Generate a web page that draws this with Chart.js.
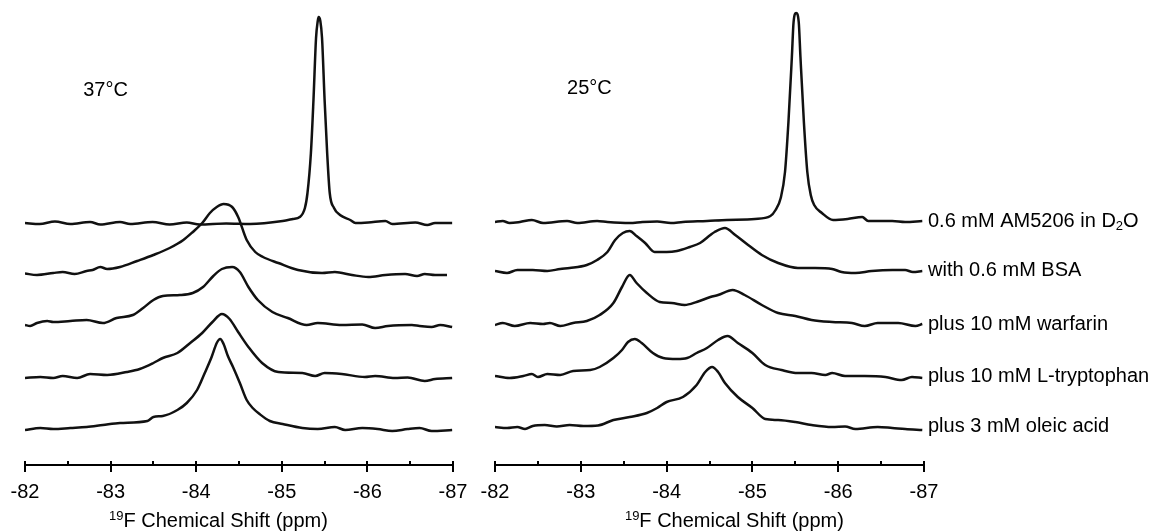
<!DOCTYPE html>
<html>
<head>
<meta charset="utf-8">
<script src="https://cdn.jsdelivr.net/npm/chart.js@4.4.1/dist/chart.umd.min.js"></script>
<style>
  html, body { margin: 0; padding: 0; background: #fff; }
  #wrap { position: relative; width: 1152px; height: 532px; }
  canvas { position: absolute; left: 0; top: 0; }
</style>
</head>
<body>
<div id="wrap">
  <canvas id="chart37" width="1152" height="532"></canvas>
  <canvas id="chart25" width="1152" height="532"></canvas>
</div>
<script>
// --- data: [ppm, intensity above own baseline] ---
const sampleLabels = ['0.6 mM AM5206 in D2O', 'with 0.6 mM BSA', 'plus 10 mM warfarin', 'plus 10 mM L-tryptophan', 'plus 3 mM oleic acid'];
const tickValues = [-82, -83, -84, -85, -86, -87];
const minorTicks = [-82.5, -83.5, -84.5, -85.5, -86.5];
// vertical stacking of the five traces (same units as intensity)
const offsets37 = [242, 191, 140, 87, 35];
const offsets25 = [243, 194, 140, 88, 38];

// 37°C
const d2o37 = [[-82.00,0],[-82.17,-1],[-82.35,1.5],[-82.53,-1],[-82.76,1],[-82.88,-1.5],[-83.11,1],[-83.23,-1],[-83.49,1],[-83.69,-1.5],[-83.89,0.5],[-84.04,-1.5],[-84.35,-0.5],[-84.63,-1],[-85.01,2],[-85.13,4],[-85.21,6],[-85.27,15],[-85.30,30],[-85.34,70],[-85.37,123],[-85.40,185],[-85.42,202],[-85.43,206],[-85.45,202],[-85.47,185],[-85.50,123],[-85.53,70],[-85.56,30],[-85.61,15],[-85.68,8],[-85.80,3],[-85.86,0],[-86.01,0.5],[-86.21,2],[-86.29,-1],[-86.56,0.5],[-86.70,-2],[-86.79,0],[-86.99,0]];
const bsa37 = [[-82.00,0.5],[-82.14,-1],[-82.33,1],[-82.44,2],[-82.58,0],[-82.72,3],[-82.79,4],[-82.88,7],[-82.96,5],[-83.11,7],[-83.31,13],[-83.50,19],[-83.69,26],[-83.85,34],[-83.96,42],[-84.07,51],[-84.16,61],[-84.24,67],[-84.32,70],[-84.42,67],[-84.49,57],[-84.59,34],[-84.69,22],[-84.78,17],[-84.96,11],[-85.19,4],[-85.47,1],[-85.62,2],[-85.82,-1],[-86.01,-3],[-86.21,-1],[-86.44,0],[-86.58,-2],[-86.67,0],[-86.79,-1],[-86.93,-1]];
const warf37 = [[-82.00,0],[-82.06,-1],[-82.14,2],[-82.26,4],[-82.33,3],[-82.53,4],[-82.72,5],[-82.91,2],[-83.07,7],[-83.26,10],[-83.38,17],[-83.50,25],[-83.61,29],[-83.81,30],[-83.96,32],[-84.08,38],[-84.20,49],[-84.30,56],[-84.42,58],[-84.51,53],[-84.61,38],[-84.72,25],[-84.89,13],[-85.07,7],[-85.29,0],[-85.42,2],[-85.70,0],[-85.94,0.5],[-86.09,-3],[-86.24,-1],[-86.52,0],[-86.61,-1],[-86.75,-2],[-86.85,0],[-86.99,-2]];
const trp37 = [[-82.00,0],[-82.18,1],[-82.33,0],[-82.44,2],[-82.61,0],[-82.76,4],[-82.96,3],[-83.19,6],[-83.34,9],[-83.50,15],[-83.61,20],[-83.78,25],[-83.93,35],[-84.07,45],[-84.19,56],[-84.30,64],[-84.39,59],[-84.49,46],[-84.61,31],[-84.77,15],[-84.96,6],[-85.24,5],[-85.39,2],[-85.50,5],[-85.70,4],[-85.97,1],[-86.09,2],[-86.32,0],[-86.47,0.5],[-86.67,-3],[-86.79,-1],[-86.99,0]];
const ole37 = [[-82.00,0],[-82.18,2],[-82.33,1],[-82.53,2],[-82.72,3],[-82.91,5],[-83.11,7],[-83.43,9],[-83.50,13],[-83.61,14],[-83.78,20],[-83.89,27],[-84.01,40],[-84.10,57],[-84.18,73],[-84.24,87],[-84.28,91],[-84.32,86],[-84.37,74],[-84.43,63],[-84.51,47],[-84.59,30],[-84.66,22],[-84.74,16],[-84.86,9],[-85.01,6],[-85.24,2],[-85.42,1],[-85.62,3],[-85.74,0],[-85.94,2],[-86.12,1],[-86.29,-1],[-86.47,1],[-86.61,2],[-86.75,-1],[-86.99,0]];

// 25°C
const d2o25 = [[-82.00,0],[-82.09,1],[-82.17,-1],[-82.29,0],[-82.43,2],[-82.56,-1],[-82.84,1],[-82.96,-1],[-83.19,1],[-83.31,0],[-83.57,-1],[-83.72,0],[-83.89,0.5],[-84.05,-1],[-84.19,0],[-84.47,1],[-84.70,2],[-85.03,3],[-85.21,6],[-85.27,12],[-85.33,24],[-85.38,50],[-85.42,100],[-85.46,165],[-85.48,200],[-85.51,209],[-85.54,200],[-85.56,165],[-85.60,100],[-85.64,50],[-85.68,27],[-85.72,17],[-85.81,9],[-85.94,2],[-86.11,3],[-86.28,5],[-86.35,1],[-86.63,1],[-86.78,0],[-86.98,1]];
const bsa25 = [[-82.00,0],[-82.14,-2],[-82.26,1],[-82.44,1],[-82.61,0],[-82.76,2],[-82.87,3],[-83.07,6],[-83.19,11],[-83.31,19],[-83.40,31],[-83.49,38],[-83.57,40],[-83.65,35],[-83.75,28],[-83.86,19],[-84.00,19],[-84.12,20],[-84.27,24],[-84.39,28],[-84.51,36],[-84.56,39],[-84.68,43],[-84.80,36],[-84.95,26],[-85.11,16],[-85.30,8],[-85.53,3],[-85.73,3],[-85.93,2],[-86.04,-1],[-86.20,-2],[-86.39,0],[-86.63,1],[-86.78,1],[-86.87,-1],[-86.98,0]];
const warf25 = [[-82.00,0],[-82.09,2],[-82.23,-1],[-82.41,2],[-82.56,1],[-82.64,2],[-82.76,-1],[-82.91,2],[-83.07,4],[-83.22,10],[-83.38,22],[-83.48,38],[-83.57,50],[-83.65,42],[-83.77,32],[-83.92,23],[-84.06,22],[-84.21,20],[-84.35,23],[-84.51,28],[-84.60,30],[-84.77,35],[-84.91,30],[-85.11,20],[-85.30,12],[-85.50,9],[-85.69,5],[-85.93,3],[-86.16,2],[-86.31,-1],[-86.46,2],[-86.70,2],[-86.90,-1],[-86.98,1]];
const trp25 = [[-82.00,1],[-82.17,-1],[-82.33,1],[-82.43,3],[-82.50,0],[-82.61,3],[-82.76,2],[-82.91,6],[-83.11,7],[-83.22,10],[-83.38,19],[-83.48,27],[-83.55,35],[-83.63,38],[-83.71,34],[-83.84,24],[-83.96,19],[-84.12,18],[-84.24,19],[-84.35,24],[-84.47,29],[-84.60,37],[-84.71,41],[-84.83,34],[-85.00,24],[-85.15,12],[-85.34,7],[-85.53,4],[-85.69,4],[-85.85,2],[-85.93,4],[-86.08,1],[-86.31,1],[-86.55,0],[-86.74,-3],[-86.86,0],[-86.98,-1]];
const ole25 = [[-82.00,0],[-82.14,-1],[-82.26,0],[-82.35,-2],[-82.44,1],[-82.58,2],[-82.72,0.5],[-82.87,2],[-83.03,1],[-83.20,1.5],[-83.38,7],[-83.57,10],[-83.77,14],[-83.89,19],[-84.00,25],[-84.19,30],[-84.35,42],[-84.45,55],[-84.53,60],[-84.60,55],[-84.68,44],[-84.83,30],[-85.00,19],[-85.15,8],[-85.30,7],[-85.50,5],[-85.69,2],[-85.93,0],[-86.08,0.5],[-86.20,-2],[-86.46,0],[-86.63,-1],[-86.78,-2],[-86.98,-3]];

Chart.defaults.font.family = "'Liberation Sans', Arial, sans-serif";
Chart.defaults.color = '#000';

const FONT = "'Liberation Sans', Arial, sans-serif";

// tick marks pointing up, axis title, temperature and trace labels
const axisMarks = {
  id: 'axisMarks',
  afterDraw(chart, args, opts) {
    const { ctx, scales: { x, y } } = chart;
    const yb = x.top;
    ctx.save();
    ctx.strokeStyle = '#000';
    ctx.lineWidth = 2;
    tickValues.concat(minorTicks).forEach(v => {
      const px = Math.round(x.getPixelForValue(v));
      ctx.beginPath();
      ctx.moveTo(px, yb);
      ctx.lineTo(px, yb - 4);
      ctx.stroke();
    });

    ctx.fillStyle = '#000';
    ctx.textBaseline = 'middle';
    ctx.textAlign = 'left';

    // axis title with superscript 19
    const ty = chart.height - 11;
    ctx.font = '13px ' + FONT;
    const supW = ctx.measureText('19').width;
    ctx.font = '20px ' + FONT;
    const mainW = ctx.measureText('F Chemical Shift (ppm)').width;
    const tx = x.getPixelForValue(opts.titleAt) - (supW + mainW) / 2;
    ctx.font = '13px ' + FONT;
    ctx.fillText('19', tx, ty - 5);
    ctx.font = '20px ' + FONT;
    ctx.fillText('F Chemical Shift (ppm)', tx + supW, ty);

    // temperature
    ctx.fillText(opts.temp, x.getPixelForValue(opts.tempAt[0]), y.getPixelForValue(opts.tempAt[1]));

    // trace labels on the right
    if (opts.labels) {
      chart.data.datasets.forEach((ds, i) => {
        const lx = x.right + 4;
        const ly = y.getPixelForValue(opts.offsets[i]) - 1;
        const txt = sampleLabels[i];
        if (txt.endsWith('D2O')) {
          const head = txt.slice(0, -2);
          ctx.font = '20px ' + FONT;
          ctx.fillText(head, lx, ly);
          let cx = lx + ctx.measureText(head).width;
          ctx.font = '13px ' + FONT;
          ctx.fillText('2', cx, ly + 5);
          cx += ctx.measureText('2').width;
          ctx.font = '20px ' + FONT;
          ctx.fillText('O', cx, ly);
        } else {
          ctx.font = '20px ' + FONT;
          ctx.fillText(txt, lx, ly);
        }
      });
    }
    ctx.restore();
  }
};

function buildChart(id, traces, offsets, pad, marks) {
  return new Chart(document.getElementById(id), {
    type: 'line',
    data: {
      datasets: traces.map((t, i) => ({
        label: sampleLabels[i],
        data: t.map(p => ({ x: p[0], y: p[1] + offsets[i] })),
        borderColor: '#111',
        borderWidth: 2.5,
        pointRadius: 0,
        fill: false,
        cubicInterpolationMode: 'monotone'
      }))
    },
    options: {
      responsive: false,
      animation: false,
      events: [],
      layout: { padding: pad },
      plugins: {
        legend: { display: false },
        tooltip: { enabled: false },
        axisMarks: Object.assign({ offsets: offsets }, marks)
      },
      scales: {
        x: {
          type: 'linear',
          reverse: true,
          min: -87,
          max: -82,
          afterBuildTicks: s => { s.ticks = tickValues.map(v => ({ value: v })); },
          grid: { drawOnChartArea: false, drawTicks: true, tickLength: 7, color: '#000', lineWidth: 2 },
          border: { display: true, color: '#000', width: 2 },
          ticks: { color: '#000', padding: 8, font: { size: 20 }, maxRotation: 0, autoSkip: false }
        },
        y: { display: false, min: 0, max: 465 }
      }
    },
    plugins: [axisMarks]
  });
}

buildChart('chart37', [d2o37, bsa37, warf37, trp37, ole37], offsets37,
  { left: 25, right: 699, top: 0, bottom: 20 },
  { temp: '37°C', tempAt: [-82.68, 375], titleAt: -84.26, labels: false });

buildChart('chart25', [d2o25, bsa25, warf25, trp25, ole25], offsets25,
  { left: 495, right: 228, top: 0, bottom: 20 },
  { temp: '25°C', tempAt: [-82.84, 377], titleAt: -84.79, labels: true });
</script>
</body>
</html>
